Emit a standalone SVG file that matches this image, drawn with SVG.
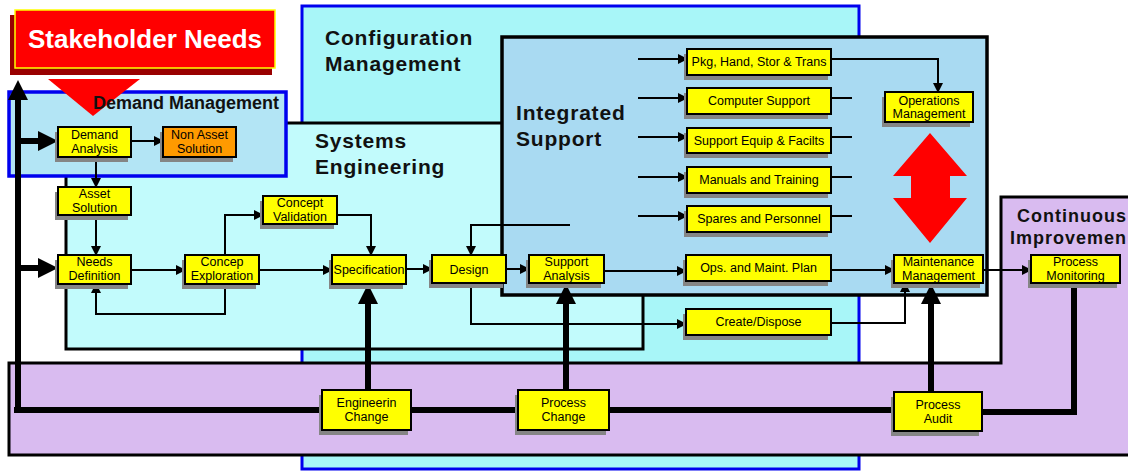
<svg xmlns="http://www.w3.org/2000/svg" width="1128" height="471" viewBox="0 0 1128 471">
<style>
.n{font-family:"Liberation Sans",Arial,sans-serif;font-size:12.5px;text-anchor:middle;fill:#000}
.t{font-family:"Liberation Sans",Arial,sans-serif;font-size:21px;font-weight:bold;letter-spacing:0.8px;fill:#111}
.box{fill:#ffff00;stroke:#000;stroke-width:2}
.org{fill:#ff9a00;stroke:#000;stroke-width:2}
.sh{fill:#858585}
.c{fill:none;stroke:#000;stroke-width:2}
.k{fill:none;stroke:#000;stroke-width:6}
</style>
<defs>
<marker id="a" viewBox="0 0 10 10" markerUnits="userSpaceOnUse" markerWidth="10" markerHeight="10" refX="9" refY="5" orient="auto"><path d="M0,0 L10,5 L0,10 z" fill="#000"/></marker>
<marker id="b" viewBox="0 0 10 10" markerUnits="userSpaceOnUse" markerWidth="21" markerHeight="20" refX="5" refY="5" orient="auto"><path d="M0,0 L10,5 L0,10 z" fill="#000"/></marker>
</defs>
<rect width="1128" height="471" fill="#fff"/>
<!-- regions -->
<rect x="302" y="6" width="557" height="463" fill="#a8f6f8" stroke="#0000ee" stroke-width="3"/>
<rect x="66" y="123" width="577" height="226" fill="#c2fbfc" stroke="#000" stroke-width="3"/>
<rect x="502" y="37" width="485" height="258" fill="#a9daf2" stroke="#000" stroke-width="3.5"/>
<path d="M9,363 H1001 V197 H1132 V455 H9 Z" fill="#d9bbf0" stroke="#000" stroke-width="3"/>
<rect x="9" y="92" width="277" height="84" fill="#b3e5f5" stroke="#0000ee" stroke-width="3.5"/>
<!-- stakeholder needs -->
<g id="stakeholder-needs">
<rect x="10" y="15" width="262" height="60" fill="#990000"/>
<rect x="15" y="10" width="260" height="58" fill="#ff0000" stroke="#ffff00" stroke-width="1.5"/>
<text x="145" y="48" style="font-family:'Liberation Sans',Arial,sans-serif;font-size:26px;font-weight:bold;fill:#fff;text-anchor:middle">Stakeholder Needs</text>
<path d="M48,79 H140 L93,116 Z" fill="#ff0000"/>
</g>
<text class="t" x="325" y="45">Configuration</text>
<text class="t" x="325" y="71">Management</text>
<text class="t" x="315" y="148">Systems</text>
<text class="t" x="315" y="174">Engineering</text>
<text class="t" x="516" y="120">Integrated</text>
<text class="t" x="516" y="146">Support</text>
<text x="1017" y="222" style="font-family:'Liberation Sans',Arial,sans-serif;font-size:18px;font-weight:bold;letter-spacing:1px;fill:#111">Continuous</text>
<text x="1010" y="244" style="font-family:'Liberation Sans',Arial,sans-serif;font-size:18px;font-weight:bold;letter-spacing:1px;fill:#111">Improvemen</text>
<text x="93" y="109" style="font-family:'Liberation Sans',Arial,sans-serif;font-size:18px;font-weight:bold;fill:#111">Demand Management</text>
<!-- red double arrow -->
<path d="M930,133 L967,176 L950,176 L950,198 L967,198 L930,243 L893,198 L911,198 L911,176 L893,176 Z" fill="#ff0000"/>
<!-- connectors -->
<g id="connectors">
<path class="k" d="M14,410 H323"/>
<path class="k" d="M411,410 H519"/>
<path class="k" d="M609,410 H894"/>
<path class="k" d="M982,412 H1074 V283"/>
<path class="k" d="M18,410 V90" marker-end="url(#b)"/>
<path class="k" d="M18,141 H48" marker-end="url(#b)"/>
<path class="k" d="M18,268 H48" marker-end="url(#b)"/>
<path class="k" d="M368,390 V294" marker-end="url(#b)"/>
<path class="k" d="M566,390 V294" marker-end="url(#b)"/>
<path class="k" d="M931,392 V294" marker-end="url(#b)"/>
<path class="c" d="M131,141 H163" marker-end="url(#a)"/>
<path class="c" d="M96,157 V187" marker-end="url(#a)"/>
<path class="c" d="M96,215 V255" marker-end="url(#a)"/>
<path class="c" d="M131,270 H185" marker-end="url(#a)"/>
<path class="c" d="M225,284 V314 H96 V284" marker-end="url(#a)"/>
<path class="c" d="M225,255 V215 H263" marker-end="url(#a)"/>
<path class="c" d="M259,270 H332" marker-end="url(#a)"/>
<path class="c" d="M337,215 H371 V255" marker-end="url(#a)"/>
<path class="c" d="M406,269 H432" marker-end="url(#a)"/>
<path class="c" d="M506,269 H529" marker-end="url(#a)"/>
<path class="c" d="M570,225 H471 V255" marker-end="url(#a)"/>
<path class="c" d="M471,283 V324 H686" marker-end="url(#a)"/>
<path class="c" d="M604,271 H686" marker-end="url(#a)"/>
<path class="c" d="M831,270 H894" marker-end="url(#a)"/>
<path class="c" d="M831,323 H905 V283" marker-end="url(#a)"/>
<path class="c" d="M983,270 H1031" marker-end="url(#a)"/>
<path class="c" d="M831,59 H938 V92" marker-end="url(#a)"/>
<path class="c" d="M638,59 H687" marker-end="url(#a)"/>
<path class="c" d="M638,98 H687" marker-end="url(#a)"/>
<path class="c" d="M638,137 H687" marker-end="url(#a)"/>
<path class="c" d="M638,177 H687" marker-end="url(#a)"/>
<path class="c" d="M638,216 H687" marker-end="url(#a)"/>
<path class="c" d="M831,98 H852 M831,137 H852 M831,177 H852 M831,216 H852"/>
</g>
<!-- nodes -->
<g id="demand-analysis"><rect class="sh" x="55" y="132" width="73" height="30"/><rect class="box" x="58" y="127" width="73" height="30"/><text class="n" x="94.5" y="139">Demand</text><text class="n" x="94.5" y="153">Analysis</text></g>
<g id="non-asset-solution"><rect class="sh" x="160" y="132" width="73" height="30"/><rect class="org" x="163" y="127" width="73" height="30"/><text class="n" x="199.5" y="139">Non Asset</text><text class="n" x="199.5" y="153">Solution</text></g>
<g id="asset-solution"><rect class="sh" x="55" y="192" width="73" height="28"/><rect class="box" x="58" y="187" width="73" height="28"/><text class="n" x="94.5" y="198">Asset</text><text class="n" x="94.5" y="212">Solution</text></g>
<g id="needs-definition"><rect class="sh" x="55" y="260" width="73" height="29"/><rect class="box" x="58" y="255" width="73" height="29"/><text class="n" x="94.5" y="266">Needs</text><text class="n" x="94.5" y="280">Definition</text></g>
<g id="concep-exploration"><rect class="sh" x="182" y="260" width="74" height="29"/><rect class="box" x="185" y="255" width="74" height="29"/><text class="n" x="222" y="266">Concep</text><text class="n" x="222" y="280">Exploration</text></g>
<g id="concept-validation"><rect class="sh" x="260" y="201" width="74" height="28"/><rect class="box" x="263" y="196" width="74" height="28"/><text class="n" x="300" y="207">Concept</text><text class="n" x="300" y="221">Validation</text></g>
<g id="specification"><rect class="sh" x="329" y="260" width="74" height="29"/><rect class="box" x="332" y="255" width="74" height="29"/><text class="n" x="369" y="274">Specification</text></g>
<g id="design"><rect class="sh" x="429" y="260" width="74" height="28"/><rect class="box" x="432" y="255" width="74" height="28"/><text class="n" x="469" y="274">Design</text></g>
<g id="support-analysis"><rect class="sh" x="526" y="260" width="75" height="28"/><rect class="box" x="529" y="255" width="75" height="28"/><text class="n" x="566.5" y="266">Support</text><text class="n" x="566.5" y="280">Analysis</text></g>
<g id="pkg-hand-stor-trans"><rect class="sh" x="684" y="54" width="144" height="26"/><rect class="box" x="687" y="49" width="144" height="26"/><text class="n" x="759" y="66">Pkg, Hand, Stor &amp; Trans</text></g>
<g id="computer-support"><rect class="sh" x="684" y="93" width="144" height="26"/><rect class="box" x="687" y="88" width="144" height="26"/><text class="n" x="759" y="105">Computer Support</text></g>
<g id="support-equip"><rect class="sh" x="684" y="133" width="144" height="25"/><rect class="box" x="687" y="128" width="144" height="25"/><text class="n" x="759" y="145">Support Equip &amp; Facilts</text></g>
<g id="manuals-training"><rect class="sh" x="684" y="172" width="144" height="26"/><rect class="box" x="687" y="167" width="144" height="26"/><text class="n" x="759" y="184">Manuals and Training</text></g>
<g id="spares-personnel"><rect class="sh" x="684" y="211" width="144" height="26"/><rect class="box" x="687" y="206" width="144" height="26"/><text class="n" x="759" y="223">Spares and Personnel</text></g>
<g id="operations-management"><rect class="sh" x="882" y="97" width="88" height="30"/><rect class="box" x="885" y="92" width="88" height="30"/><text class="n" x="929" y="105">Operations</text><text class="n" x="929" y="118">Management</text></g>
<g id="ops-maint-plan"><rect class="sh" x="683" y="260" width="145" height="26"/><rect class="box" x="686" y="255" width="145" height="26"/><text class="n" x="758.5" y="272">Ops. and Maint. Plan</text></g>
<g id="create-dispose"><rect class="sh" x="683" y="314" width="145" height="26"/><rect class="box" x="686" y="309" width="145" height="26"/><text class="n" x="758.5" y="326">Create/Dispose</text></g>
<g id="maintenance-management"><rect class="sh" x="891" y="260" width="89" height="28"/><rect class="box" x="894" y="255" width="89" height="28"/><text class="n" x="938.5" y="266">Maintenance</text><text class="n" x="938.5" y="280">Management</text></g>
<g id="process-monitoring"><rect class="sh" x="1028" y="260" width="89" height="28"/><rect class="box" x="1031" y="255" width="89" height="28"/><text class="n" x="1075.5" y="266">Process</text><text class="n" x="1075.5" y="280">Monitoring</text></g>
<g id="engineerin-change"><rect class="sh" x="319" y="395" width="89" height="40"/><rect class="box" x="322" y="390" width="89" height="40"/><text class="n" x="366.5" y="407">Engineerin</text><text class="n" x="366.5" y="421">Change</text></g>
<g id="process-change"><rect class="sh" x="515" y="395" width="91" height="40"/><rect class="box" x="518" y="390" width="91" height="40"/><text class="n" x="563.5" y="407">Process</text><text class="n" x="563.5" y="421">Change</text></g>
<g id="process-audit"><rect class="sh" x="891" y="397" width="88" height="39"/><rect class="box" x="894" y="392" width="88" height="39"/><text class="n" x="938" y="409">Process</text><text class="n" x="938" y="423">Audit</text></g>
</svg>
